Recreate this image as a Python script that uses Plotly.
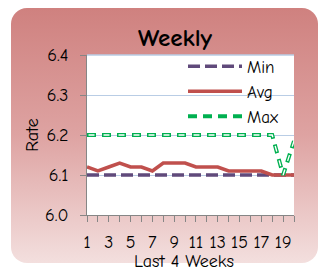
import base64
import plotly.graph_objects as go

weeks = list(range(1, 21))
tick_labels = ["1", "", "3", "", "5", "", "7", "", "9", "", "11", "", "13", "", "15", "", "17", "", "19", ""]
min_vals = [6.10, 6.10, 6.10, 6.10, 6.10, 6.10, 6.10, 6.10, 6.10, 6.10,
            6.10, 6.10, 6.10, 6.10, 6.10, 6.10, 6.10, 6.10, 6.10, 6.10]
avg_vals = [6.12, 6.11, 6.12, 6.13, 6.12, 6.12, 6.11, 6.13, 6.13, 6.13,
            6.12, 6.12, 6.12, 6.11, 6.11, 6.11, 6.11, 6.10, 6.10, 6.10]
max_vals = [6.20, 6.20, 6.20, 6.20, 6.20, 6.20, 6.20, 6.20, 6.20, 6.20,
            6.20, 6.20, 6.20, 6.20, 6.20, 6.20, 6.20, 6.20, 6.10, 6.185]

W, H = 320, 270
L, R, T, B = 87, 26, 55, 55
pw, ph = W - L - R, H - T - B

FONT = "Comic Sans MS, Comic Neue, Noto Sans, sans-serif"

svg = f'''<svg xmlns="http://www.w3.org/2000/svg" width="{W}" height="{H}" viewBox="0 0 {W} {H}" preserveAspectRatio="none">
<defs><linearGradient id="g" x1="0" y1="0" x2="0" y2="1">
<stop offset="0" stop-color="#cf817f"/><stop offset="0.5" stop-color="#dea3a2"/><stop offset="1" stop-color="#f3dfde"/>
</linearGradient></defs>
<rect x="11" y="8" width="307" height="255" rx="16" ry="16" fill="url(#g)"/>
</svg>'''
src = "data:image/svg+xml;base64," + base64.b64encode(svg.encode()).decode()

fig = go.Figure()
fig.add_trace(go.Scatter(x=weeks, y=min_vals, mode="lines", name="Min",
                         line=dict(color="#604a7b", width=3.5, dash="12px,5px")))
fig.add_trace(go.Scatter(x=weeks, y=avg_vals, mode="lines", name="Avg",
                         line=dict(color="#c0504d", width=3.5)))
fig.add_trace(go.Scatter(x=weeks, y=max_vals, mode="lines", name="Max", legendgroup="max",
                         line=dict(color="#00b050", width=4, dash="9px,6px")))
fig.add_trace(go.Scatter(x=weeks, y=max_vals, mode="lines", name="Max", legendgroup="max",
                         showlegend=False,
                         line=dict(color="white", width=1.4, dash="0px,1.5px,6px,7.5px")))

fig.add_layout_image(dict(source=src, xref="paper", yref="paper",
                          x=-L / pw, y=(H - B) / ph, sizex=W / pw, sizey=H / ph,
                          xanchor="left", yanchor="top", sizing="stretch", layer="below"))
fig.add_shape(type="rect", xref="x domain", yref="y domain", x0=0, x1=1, y0=0, y1=1,
              fillcolor="white", line=dict(width=0), layer="below")
fig.add_shape(type="line", xref="x domain", yref="y domain", x0=0, x1=1, y0=1, y1=1,
              line=dict(color="#b9cde5", width=1.5), layer="below")

fig.add_annotation(text="Last 4 Weeks", xref="paper", yref="paper",
                   x=(184 - L) / pw, y=(215 - 261) / ph, xanchor="center", yanchor="middle",
                   showarrow=False, font=dict(size=18, family=FONT, color="#000000"))

fig.update_layout(
    width=W, height=H,
    margin=dict(l=L, r=R, t=T, b=B, autoexpand=False),
    paper_bgcolor="white", plot_bgcolor="white",
    font=dict(family=FONT, size=18, color="#000000"),
    title=dict(text="<b>Weekly</b>", x=175 / W, xanchor="center", y=1 - 37 / H, yanchor="middle",
               font=dict(size=25, family=FONT, color="#000000")),
    showlegend=True,
    legend=dict(x=(183 - L) / pw, y=1.04, xanchor="left", yanchor="top",
                bgcolor="rgba(0,0,0,0)", font=dict(size=17, family=FONT),
                itemwidth=54, tracegroupgap=0),
    xaxis=dict(range=[1, 20], tickmode="array", tickvals=weeks, ticktext=tick_labels,
               ticks="outside", ticklen=6, tickcolor="#868686", showline=True, linecolor="#868686",
               linewidth=1, showgrid=False, zeroline=False, tickangle=0,
               ticklabelstandoff=4,
               tickfont=dict(size=18)),
    yaxis=dict(range=[6.0, 6.4], tickmode="array", tickvals=[6.0, 6.1, 6.2, 6.3, 6.4],
               ticktext=["6.0", "6.1", "6.2", "6.3", "6.4"],
               ticks="outside", ticklen=6, tickcolor="#868686", showline=True, linecolor="#868686",
               linewidth=1, showgrid=True, gridcolor="#b9cde5", gridwidth=1, zeroline=False,
               ticklabelstandoff=8,
               title=dict(text="Rate", standoff=1, font=dict(size=18)),
               tickfont=dict(size=18)),
)

fig.write_html("out.html", config={"displayModeBar": False},
               post_script="document.body.style.margin='0';document.body.style.padding='0';"
                           "document.body.style.overflow='hidden';")
